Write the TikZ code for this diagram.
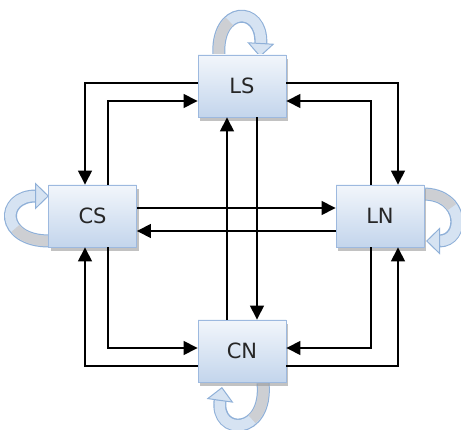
\documentclass[tikz,border=0pt]{standalone}
\usepackage{fontspec}
\setmainfont{DejaVu Sans}
\usetikzlibrary{arrows.meta,shadows,backgrounds,calc}
\definecolor{boxtop}{HTML}{F2F6FB}
\definecolor{boxbot}{HTML}{C3D5EC}
\definecolor{boxedge}{HTML}{9DB9DF}
\definecolor{loopedge}{HTML}{8FB0D8}
\definecolor{loopfill}{HTML}{D6E3F2}
\definecolor{loopgray}{HTML}{CDCFD3}
\tikzset{
  statebox/.style={draw=boxedge, line width=0.9pt, top color=boxtop, bottom color=boxbot,
    minimum width=88pt, minimum height=62pt, inner sep=0pt,
    font=\fontsize{21}{24}\selectfont, text=black!85,
    drop shadow={shadow xshift=2pt, shadow yshift=-4pt, fill=black!40, opacity=0.6}},
  conn/.style={draw=black, line width=1.5pt, -{Triangle[width=14pt,length=14pt]}},
  loopouter/.style={draw=loopedge, line width=13pt, shorten >=13pt},
  loopinner/.style={draw=loopfill, line width=10.5pt,
    -{Triangle[width=27pt,length=14pt,fill=loopfill,color=loopedge,line width=1pt]}},
  loopshade/.style={draw=loopgray, line width=10.5pt}
}
\begin{document}
\begin{tikzpicture}[x=1pt,y=-1pt]
\useasboundingbox (0,0) rectangle (461,430);
\node[statebox] (LS) at (242,86) {LS};
\node[statebox] (CS) at (92.5,216) {CS};
\node[statebox] (LN) at (380,216) {LN};
\node[statebox] (CN) at (242,351) {CN};

% self loops
\begin{scope}[on background layer]
  \begin{scope}[shift={(LS.center)}]
    \draw[loopouter] (-23,-29) .. controls (-27,-81) and (21,-81) .. (18,-29);
    \draw[loopinner] (-23,-29) .. controls (-27,-81) and (21,-81) .. (18,-29);
    \draw[loopshade] (-23,-29) .. controls (-24.4,-47.2) and (-19.4,-59) .. (-12.5,-64.5);
  \end{scope}
  \begin{scope}[shift={(CS.center)}]
    \draw[loopouter] (-43.5,25) .. controls (-92.5,25) and (-92.5,-20) .. (-43.5,-20);
    \draw[loopinner] (-43.5,25) .. controls (-92.5,25) and (-92.5,-20) .. (-43.5,-20);
    \draw[loopshade] (-43.5,25) .. controls (-60.65,25) and (-71.8,19.5) .. (-77,12.3);
  \end{scope}
  \begin{scope}[shift={(LN.center)}]
    \draw[loopouter] (43,-22) .. controls (85,-22) and (85,25) .. (46,25);
    \draw[loopinner] (43,-22) .. controls (85,-22) and (85,25) .. (46,25);
    \draw[loopshade] (43,-22) .. controls (57.7,-22) and (67.3,-16.2) .. (71.8,-8.8);
  \end{scope}
  \begin{scope}[shift={(CN.center)}]
    \draw[loopouter] (21,32) .. controls (26,85) and (-27,85) .. (-20,36);
    \draw[loopinner] (21,32) .. controls (26,85) and (-27,85) .. (-20,36);
    \draw[loopshade] (21,32) .. controls (22.75,50.55) and (17.4,62.6) .. (10,68.3);
  \end{scope}
\end{scope}

% connectors
\draw[conn] ([yshift=3pt]LS.west) -| ([xshift=-7.5pt]CS.north);
\draw[conn] ([xshift=15.5pt]CS.north) |- ([yshift=-15pt]LS.west);
\draw[conn] ([yshift=3pt]LS.east) -| ([xshift=18pt]LN.north);
\draw[conn] ([xshift=-9pt]LN.north) |- ([yshift=-15pt]LS.east);
\draw[conn] ([xshift=15.5pt]CS.south) |- ([yshift=3pt]CN.west);
\draw[conn] ([yshift=-15pt]CN.west) -| ([xshift=-7.5pt]CS.south);
\draw[conn] ([xshift=-9pt]LN.south) |- ([yshift=3pt]CN.east);
\draw[conn] ([yshift=-15pt]CN.east) -| ([xshift=18pt]LN.south);
\draw[conn] ([yshift=8pt]CS.east) -- ([yshift=8pt]LN.west);
\draw[conn] ([yshift=-15pt]LN.west) -- ([yshift=-15pt]CS.east);
\draw[conn] ([xshift=-15pt]CN.north) -- ([xshift=-15pt]LS.south);
\draw[conn] ([xshift=15pt]LS.south) -- ([xshift=15pt]CN.north);
\end{tikzpicture}
\end{document}
